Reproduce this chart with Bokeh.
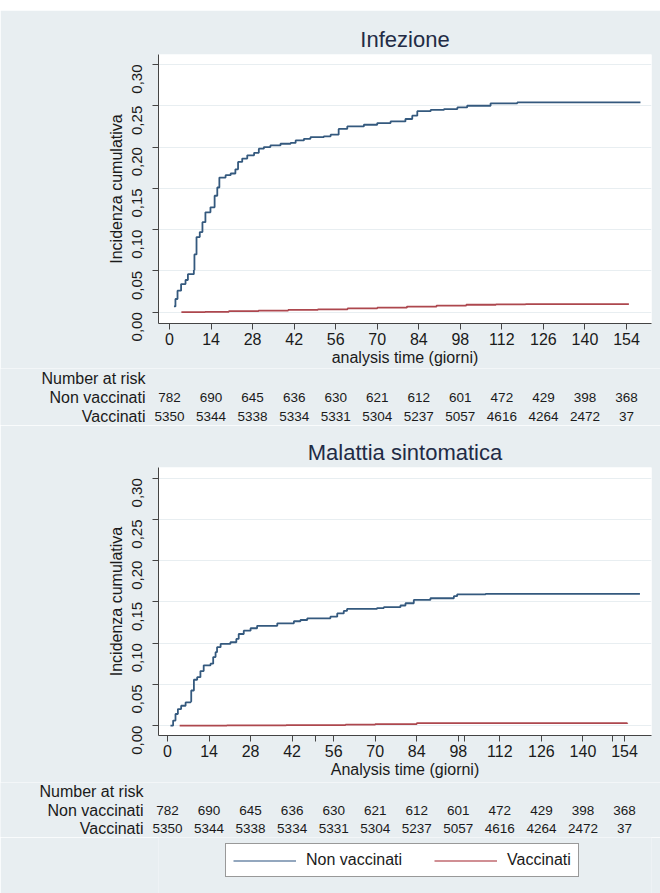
import math
from bokeh.plotting import figure
from bokeh.layouts import column, row
from bokeh.models import (FixedTicker, CustomJSTickFormatter, Range1d,
                          Legend, LegendItem, Spacer, ColumnDataSource)
from bokeh.core.properties import value
from bokeh.embed import file_html
from bokeh.resources import INLINE

# ---------------- data ----------------
x_ticks = [0, 14, 28, 42, 56, 70, 84, 98, 112, 126, 140, 154]
y_ticks = [0.0, 0.05, 0.10, 0.15, 0.20, 0.25, 0.30]
risk_days = [0, 14, 28, 42, 56, 70, 84, 98, 112, 126, 140, 154]
risk_nonvacc = [782, 690, 645, 636, 630, 621, 612, 601, 472, 429, 398, 368]
risk_vacc = [5350, 5344, 5338, 5334, 5331, 5304, 5237, 5057, 4616, 4264, 2472, 37]
risk_rows = ["Number at risk", "Non vaccinati", "Vaccinati"]
legend_labels = ["Non vaccinati", "Vaccinati"]

# Infezione
inf_nv_days = [1.5, 2.0, 2.7, 3.9, 5.4, 6.2, 8.2, 8.4, 9.1, 10.2, 11.1, 12.1, 13.8, 15.2, 16.1,
               16.8, 18.9, 20.6, 22.2, 23.1, 24.5, 26.2, 28.5, 30.1, 31.8, 34.0, 37.4, 40.8,
               42.5, 45.3, 47.5, 52.0, 54.3, 57.0, 59.9, 65.5, 70.0, 74.5, 79.5, 81.8, 83.5,
               88.0, 92.5, 97.0, 100.3, 108.2, 117.2, 158.7]
inf_nv_cum = [0.007, 0.016, 0.026, 0.034, 0.039, 0.046, 0.051, 0.070, 0.091, 0.097, 0.109,
              0.121, 0.127, 0.141, 0.151, 0.163, 0.166, 0.168, 0.173, 0.182, 0.186, 0.190,
              0.193, 0.198, 0.200, 0.202, 0.204, 0.205, 0.208, 0.210, 0.212, 0.213, 0.215,
              0.222, 0.225, 0.227, 0.229, 0.231, 0.234, 0.238, 0.2435, 0.245, 0.246, 0.248,
              0.250, 0.253, 0.254, 0.254]
inf_v_days = [4, 12, 20, 30, 40, 50, 60, 70, 80, 90, 100, 110, 120, 154.8]
inf_v_cum = [0.0, 0.0005, 0.0012, 0.002, 0.0028, 0.0035, 0.0045, 0.0055, 0.0068, 0.008,
             0.009, 0.0095, 0.0097, 0.0097]

# Malattia sintomatica
mal_nv_days = [1.0, 1.9, 2.7, 3.5, 4.6, 6.1, 7.8, 8.0, 8.9, 10.0, 11.1, 12.2, 14.5, 15.4, 16.2,
               16.7, 17.9, 21.2, 23.2, 24.0, 25.7, 28.0, 30.2, 37.0, 42.6, 44.8, 47.1, 54.9,
               57.2, 59.4, 60.5, 70.6, 72.9, 78.5, 80.2, 83.0, 88.6, 96.5, 97.6, 107.2, 159.2]
mal_nv_cum = [0.0, 0.006, 0.014, 0.020, 0.024, 0.028, 0.029, 0.0425, 0.0555, 0.0586, 0.066,
              0.073, 0.075, 0.083, 0.089, 0.095, 0.099, 0.101, 0.105, 0.111, 0.115, 0.118,
              0.121, 0.124, 0.1265, 0.128, 0.130, 0.132, 0.136, 0.139, 0.1415, 0.1425, 0.1436,
              0.1456, 0.1483, 0.1524, 0.1544, 0.1569, 0.159, 0.1597, 0.1597]
mal_v_days = [4.1, 20, 40, 60, 70, 84, 106.5, 155]
mal_v_cum = [0.0, 0.0002, 0.0005, 0.001, 0.0017, 0.0028, 0.003, 0.0032]

# ---------------- style ----------------
BG = "#e8eef1"
BLUE = "#34597e"
RED = "#ad474e"
FONT = "Liberation Sans"
TXT = "#1a1a1a"
W = 660
ML = 158   # frame left of the charts
MR = 9     # frame right border of the charts


def main_fig(title, xlabel, nv_d, nv_c, v_d, v_c, xr, yr, height, mbt, mbb, minor=None):
    p = figure(width=W, height=height, x_range=Range1d(*xr), y_range=Range1d(*yr),
               output_backend="svg", toolbar_location=None, tools="",
               min_border_left=ML, min_border_right=MR, min_border_top=mbt,
               min_border_bottom=mbb)
    p.background_fill_color = "white"
    p.border_fill_color = BG
    p.outline_line_color = None
    p.title.text = title
    p.title.align = "center"
    p.title.text_font = FONT
    p.title.text_font_size = "22px"
    p.title.text_font_style = "normal"
    p.title.text_color = "#222b45"
    p.title.standoff = 6

    p.xgrid.visible = False
    p.ygrid.grid_line_color = "#e8eef1"
    p.ygrid.grid_line_width = 1

    p.xaxis.ticker = FixedTicker(ticks=x_ticks, minor_ticks=minor or [])
    p.yaxis.ticker = FixedTicker(ticks=y_ticks)
    p.yaxis.formatter = CustomJSTickFormatter(code="return tick.toFixed(2).replace('.', ',');")
    p.yaxis.major_label_orientation = math.pi / 2
    p.xaxis.axis_label = xlabel
    p.yaxis.axis_label = "Incidenza cumulativa"
    for ax in (p.xaxis, p.yaxis):
        ax.axis_line_color = "#444444"
        ax.major_tick_line_color = "#444444"
        ax.major_tick_out = 6
        ax.major_tick_in = 0
        ax.minor_tick_line_color = "#444444"
        ax.minor_tick_out = 6
        ax.minor_tick_in = 0
        ax.major_label_text_font = FONT
        ax.major_label_text_color = TXT
        ax.axis_label_text_font = FONT
        ax.axis_label_text_font_style = "normal"
        ax.axis_label_text_color = TXT
        ax.axis_label_text_font_size = "16px"
    p.xaxis.major_label_text_font_size = "16px"
    p.yaxis.major_label_text_font_size = "15px"
    p.xaxis.major_label_standoff = 3
    p.xaxis.axis_label_standoff = 1
    p.yaxis.major_label_standoff = 15
    p.yaxis.axis_label_standoff = 0

    p.step(nv_d, nv_c, mode="after", line_color=BLUE, line_width=1.8)
    p.step(v_d, v_c, mode="after", line_color=RED, line_width=1.8)
    return p


def risk_fig(xr, height, label_gap):
    # full-width frame that keeps the day-to-pixel scale of the chart above
    ppd = (W - ML - MR) / (xr[1] - xr[0])
    x0 = xr[0] - ML / ppd
    x1 = xr[1] + MR / ppd
    n = len(risk_rows)
    t = figure(width=W, height=height, x_range=Range1d(x0, x1), y_range=Range1d(0, n),
               output_backend="svg", toolbar_location=None, tools="",
               x_axis_location=None, y_axis_location=None,
               min_border_left=0, min_border_right=0, min_border_top=0, min_border_bottom=0)
    t.background_fill_color = BG
    t.border_fill_color = BG
    t.outline_line_color = None
    t.grid.visible = False
    row_y = {r: n - 0.5 - i for i, r in enumerate(risk_rows)}
    label_x = xr[0] - label_gap / ppd
    lab = ColumnDataSource(dict(x=[label_x] * n, y=[row_y[r] for r in risk_rows], t=risk_rows))
    t.text(x="x", y="y", text="t", source=lab, text_align="right", text_baseline="middle",
           text_font=value(FONT), text_font_size=value("16px"), text_color=TXT)
    src = ColumnDataSource(dict(
        x=risk_days + risk_days,
        y=[row_y["Non vaccinati"]] * len(risk_days) + [row_y["Vaccinati"]] * len(risk_days),
        t=[str(v) for v in risk_nonvacc] + [str(v) for v in risk_vacc],
    ))
    t.text(x="x", y="y", text="t", source=src, text_align="center", text_baseline="middle",
           text_font=value(FONT), text_font_size=value("13.5px"), text_color=TXT)
    return t


def legend_fig(height):
    f = figure(width=W, height=height, x_range=Range1d(0, 1), y_range=Range1d(0, 1),
               output_backend="svg", toolbar_location=None, tools="",
               x_axis_location=None, y_axis_location=None,
               min_border_left=ML, min_border_right=MR, min_border_top=0, min_border_bottom=0)
    f.background_fill_color = BG
    f.border_fill_color = BG
    f.outline_line_color = None
    f.grid.visible = False
    nan = float("nan")
    r1 = f.line([nan, nan], [nan, nan], line_color="#6f8aa8", line_width=1.6)
    r2 = f.line([nan, nan], [nan, nan], line_color="#c06a70", line_width=1.6)
    leg = Legend(items=[LegendItem(label=legend_labels[0], renderers=[r1]),
                        LegendItem(label=legend_labels[1], renderers=[r2])],
                 orientation="horizontal", location=(225 - ML, 16))
    leg.border_line_color = "#333333"
    leg.border_line_width = 1
    leg.background_fill_color = "white"
    leg.background_fill_alpha = 1
    leg.label_text_font = FONT
    leg.label_text_font_size = "16px"
    leg.label_text_color = TXT
    leg.glyph_width = 63
    leg.glyph_height = 17
    leg.label_height = 17
    leg.padding = 7
    leg.spacing = 32
    leg.label_standoff = 10
    leg.margin = 0
    f.add_layout(leg)
    return f


xr1 = (-3.71, 162.42)
xr2 = (-3.03, 163.1)
p1 = main_fig("Infezione", "analysis time (giorni)", inf_nv_days, inf_nv_cum, inf_v_days, inf_v_cum,
              xr1, (-0.0137, 0.3121), 358, 44, 45)
t1 = risk_fig(xr1, 57, 13)
p2 = main_fig("Malattia sintomatica", "Analysis time (giorni)", mal_nv_days, mal_nv_cum,
              mal_v_days, mal_v_cum, xr2, (-0.0121, 0.313), 357, 42, 47,
              minor=[50, 100, 150])
t2 = risk_fig(xr2, 55, 15)
lg = legend_fig(56)

layout = column(Spacer(width=W, height=10), row(p1), row(t1), row(p2), row(t2), row(lg),
                spacing=0)
open("out.html", "w").write(file_html(layout, INLINE))
